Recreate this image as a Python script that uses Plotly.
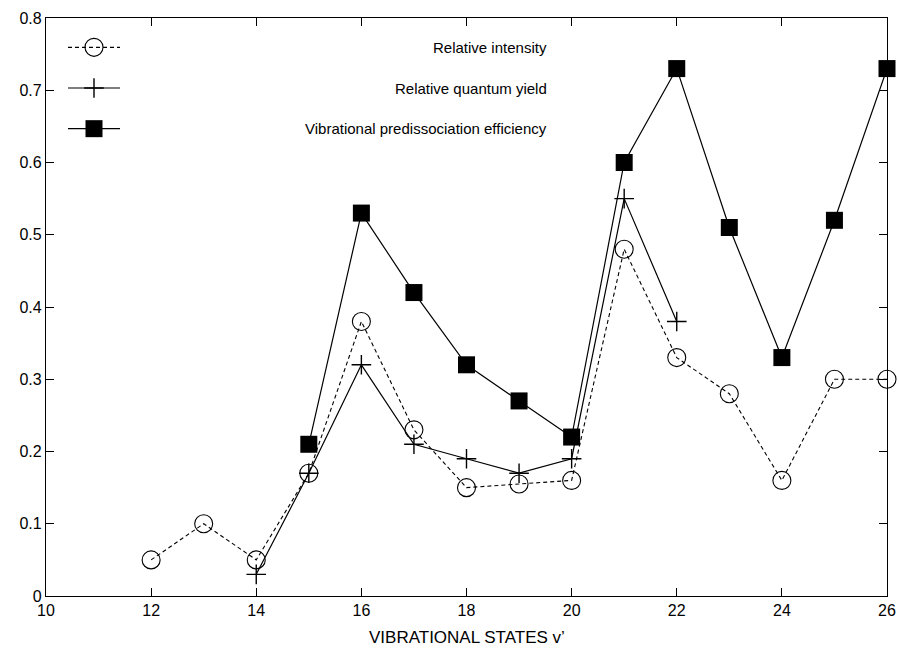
import plotly.graph_objects as go

v_int = [12, 13, 14, 15, 16, 17, 18, 19, 20, 21, 22, 23, 24, 25, 26]
rel_intensity = [0.05, 0.10, 0.05, 0.17, 0.38, 0.23, 0.15, 0.155, 0.16, 0.48, 0.33, 0.28, 0.16, 0.30, 0.30]

v_qy = [14, 15, 16, 17, 18, 19, 20, 21, 22]
rel_qyield = [0.03, 0.17, 0.32, 0.21, 0.19, 0.17, 0.19, 0.55, 0.38]

v_vp = [15, 16, 17, 18, 19, 20, 21, 22, 23, 24, 25, 26]
vp_eff = [0.21, 0.53, 0.42, 0.32, 0.27, 0.22, 0.60, 0.73, 0.51, 0.33, 0.52, 0.73]

names = ["Relative intensity", "Relative quantum yield", "Vibrational predissociation efficiency"]
x_title = "VIBRATIONAL STATES v\u2019"
x_ticks = [10, 12, 14, 16, 18, 20, 22, 24, 26]
y_ticks = [0, 0.1, 0.2, 0.3, 0.4, 0.5, 0.6, 0.7, 0.8]

FONT = "Liberation Sans, Arial, Helvetica, sans-serif"
styles = [
    dict(line=dict(color="black", width=1.1, dash="4px,3px"),
         marker=dict(symbol="circle-open", size=18, color="black", line=dict(width=1.1))),
    dict(line=dict(color="black", width=1.2),
         marker=dict(symbol="cross-thin-open", size=14, color="black", line=dict(width=1.4))),
    dict(line=dict(color="black", width=1.2),
         marker=dict(symbol="square", size=17, color="black", line=dict(width=0))),
]

L, R, T, B = 46, 12, 18, 54
PW, PH = 899 - L - R, 650 - T - B

fig = go.Figure()
series = [(v_int, rel_intensity), (v_qy, rel_qyield), (v_vp, vp_eff)]
for (xs, ys), nm, st in zip(series, names, styles):
    fig.add_trace(go.Scatter(x=xs, y=ys, mode="lines+markers", name=nm,
                             showlegend=False, cliponaxis=False, **st))

# legend samples on a hidden helper axis
leg_y = [3, 2, 1]
for yy, nm, st in zip(leg_y, names, styles):
    fig.add_trace(go.Scatter(x=[0, 1], y=[yy, yy], mode="lines", xaxis="x2", yaxis="y2",
                             showlegend=False, line=st["line"], hoverinfo="skip"))
    fig.add_trace(go.Scatter(x=[0.5], y=[yy], mode="markers", xaxis="x2", yaxis="y2",
                             showlegend=False, marker=st["marker"], hoverinfo="skip"))
    fig.add_annotation(x=(549 - L) / PW, y=yy, xref="paper", yref="y2", text=nm, showarrow=False,
                       xanchor="right", yanchor="middle",
                       font=dict(family=FONT, size=15, color="black"))

# x-axis title
fig.add_annotation(x=0.5, y=-(637 - 596) / PH, xref="paper", yref="paper", text=x_title,
                   showarrow=False, xanchor="center", yanchor="middle", borderpad=0,
                   font=dict(family=FONT, size=17, color="black"))

axis_common = dict(showgrid=False, zeroline=False, showline=True, linecolor="black",
                   linewidth=1.3, mirror="ticks", ticks="inside", ticklen=8,
                   tickcolor="black", tickwidth=1.2, automargin=False,
                   tickfont=dict(family=FONT, size=16, color="black"))

fig.update_layout(
    width=899, height=650,
    margin=dict(l=L, r=R, t=T, b=B),
    paper_bgcolor="white", plot_bgcolor="white",
    xaxis=dict(range=[10, 26], tickvals=x_ticks, ticktext=[str(t) for t in x_ticks],
               **axis_common),
    yaxis=dict(range=[0, 0.8], tickvals=y_ticks, ticktext=["0"] + [f"{t:.1f}" for t in y_ticks[1:]],
               **axis_common),
    xaxis2=dict(domain=[(68 - L) / PW, (120 - L) / PW], range=[0, 1], visible=False,
                anchor="y2", fixedrange=True),
    yaxis2=dict(domain=[1 - (149 - T) / PH, 1 - (27 - T) / PH], range=[0.5, 3.5],
                visible=False, anchor="x2", fixedrange=True),
    showlegend=False,
)

fig.write_html("out.html")
